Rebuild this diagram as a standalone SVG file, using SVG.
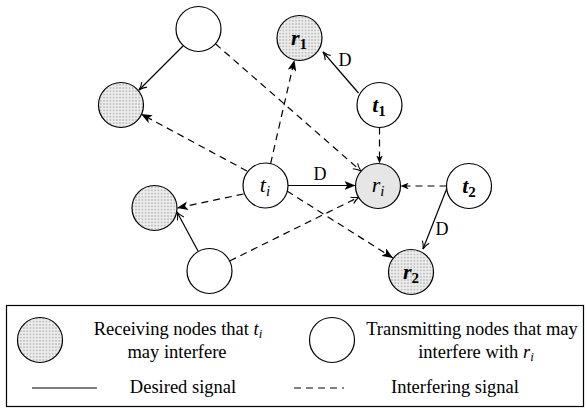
<svg xmlns="http://www.w3.org/2000/svg" width="587" height="409" viewBox="0 0 587 409">
<style>
.n{stroke:#000;stroke-width:1.2}
.e{fill:#fff}
.d{fill:url(#dots)}
.g{fill:#e6e6e6}
.s{stroke:#000;stroke-width:1.2;fill:none}
.da{stroke:#000;stroke-width:1.2;fill:none;stroke-dasharray:7,5}
text{font-family:"Liberation Serif","Times New Roman",serif;fill:#000}
.lb{font-size:22px;font-style:italic}
.lbb{font-size:22px;font-style:italic;font-weight:bold}
.sub{font-size:15px}
.t{font-size:18.5px}
.dl{font-size:18px}
</style>
<defs>
<pattern id="dots" width="3.2" height="3.2" patternUnits="userSpaceOnUse">
<rect width="3.2" height="3.2" fill="#ececec"/>
<circle cx="1.6" cy="1.6" r="0.55" fill="#6a6a6a"/>
</pattern>
<marker id="af" viewBox="0 0 10 8" refX="10" refY="4" markerWidth="11" markerHeight="9" markerUnits="userSpaceOnUse" orient="auto">
<path d="M0,0 L10,4 L0,8 L2.5,4 z" fill="#000"/>
</marker>
<marker id="afs" viewBox="0 0 10 8" refX="10" refY="4" markerWidth="8" markerHeight="7" markerUnits="userSpaceOnUse" orient="auto">
<path d="M0,0 L10,4 L0,8 L2.5,4 z" fill="#000"/>
</marker>
<marker id="ao" viewBox="0 0 10 10" refX="9.5" refY="5" markerWidth="9" markerHeight="9" markerUnits="userSpaceOnUse" orient="auto">
<path d="M1,1 Q5,4 9.5,5 Q5,6 1,9" fill="none" stroke="#000" stroke-width="1.2"/>
</marker>
</defs>

<g id="connectors">
<line class="s" x1="184" y1="45" x2="139" y2="90" marker-end="url(#ao)"/>
<line class="da" x1="215.4" y1="43.8" x2="361" y2="171" marker-end="url(#ao)"/>
<line class="da" x1="247" y1="171" x2="141" y2="114" marker-end="url(#af)"/>
<line class="da" x1="270.6" y1="163.6" x2="294.4" y2="60" marker-end="url(#af)"/>
<line class="s" x1="288" y1="185.5" x2="355.5" y2="185.5" marker-end="url(#af)"/>
<line class="da" x1="243.5" y1="194" x2="177" y2="208" marker-end="url(#af)"/>
<line class="da" x1="287" y1="191" x2="393" y2="258" marker-end="url(#af)"/>
<line class="s" x1="198" y1="251" x2="177" y2="212" marker-end="url(#ao)"/>
<line class="da" x1="229.6" y1="261" x2="359" y2="197" marker-end="url(#ao)"/>
<line class="s" x1="358.5" y1="93" x2="323" y2="52" marker-end="url(#ao)"/>
<line class="da" x1="379.5" y1="127.5" x2="379.5" y2="163.5" marker-end="url(#afs)"/>
<line class="da" x1="446.5" y1="186" x2="400.5" y2="186" marker-end="url(#afs)"/>
<line class="s" x1="447" y1="188" x2="423" y2="249" marker-end="url(#ao)"/>
<text class="dl" x="320" y="180" text-anchor="middle">D</text>
<text class="dl" x="345" y="66" text-anchor="middle">D</text>
<text class="dl" x="442" y="235" text-anchor="middle">D</text>
</g>

<g id="nodeA"><circle class="n e" cx="198.5" cy="29" r="22.5"/></g>
<g id="r1"><circle class="n d" cx="299.5" cy="38" r="22.5"/>
<text x="299" y="45" text-anchor="middle"><tspan class="lbb">r</tspan><tspan class="sub" font-weight="bold" dy="4">1</tspan></text></g>
<g id="t1"><circle class="n e" cx="379.5" cy="105" r="22.5"/>
<text x="379" y="112" text-anchor="middle"><tspan class="lbb">t</tspan><tspan class="sub" font-weight="bold" dy="4">1</tspan></text></g>
<g id="nodeTL"><circle class="n d" cx="121" cy="105" r="22.5"/></g>
<g id="ti"><circle class="n e" cx="265.5" cy="185.5" r="22.5"/>
<text x="265" y="192" text-anchor="middle"><tspan class="lb">t</tspan><tspan class="sub" font-style="italic" dy="4">i</tspan></text></g>
<g id="ri"><circle class="n g" cx="378" cy="186" r="22.5"/>
<text x="378" y="192" text-anchor="middle"><tspan class="lb">r</tspan><tspan class="sub" font-style="italic" dy="4">i</tspan></text></g>
<g id="t2"><circle class="n e" cx="469" cy="186" r="22.5"/>
<text x="469" y="193" text-anchor="middle"><tspan class="lbb">t</tspan><tspan class="sub" font-weight="bold" dy="4">2</tspan></text></g>
<g id="nodeBL"><circle class="n d" cx="154.5" cy="208" r="22.5"/></g>
<g id="nodeB"><circle class="n e" cx="209.5" cy="271" r="22.5"/></g>
<g id="r2"><circle class="n d" cx="411" cy="272" r="22.5"/>
<text x="411" y="279" text-anchor="middle"><tspan class="lbb">r</tspan><tspan class="sub" font-weight="bold" dy="4">2</tspan></text></g>

<g id="legend">
<rect x="6.5" y="305.5" width="577" height="101" fill="#fff" stroke="#000" stroke-width="1.2"/>
<circle class="n d" cx="40" cy="340" r="22.5"/>
<text class="t" x="178" y="335" text-anchor="middle">Receiving nodes that <tspan font-style="italic">t</tspan><tspan font-style="italic" font-size="13" dy="3">i</tspan></text>
<text class="t" x="177" y="358" text-anchor="middle">may interfere</text>
<circle class="n e" cx="332" cy="340" r="22.5"/>
<text class="t" x="472" y="335" text-anchor="middle">Transmitting nodes that may</text>
<text class="t" x="476" y="358" text-anchor="middle">interfere with <tspan font-style="italic">r</tspan><tspan font-style="italic" font-size="13" dy="3">i</tspan></text>
<line class="s" x1="32" y1="388" x2="97" y2="388"/>
<text class="t" x="183" y="393" text-anchor="middle">Desired signal</text>
<line class="da" x1="294" y1="388" x2="344" y2="388"/>
<text class="t" x="455" y="393" text-anchor="middle">Interfering signal</text>
</g>
</svg>
